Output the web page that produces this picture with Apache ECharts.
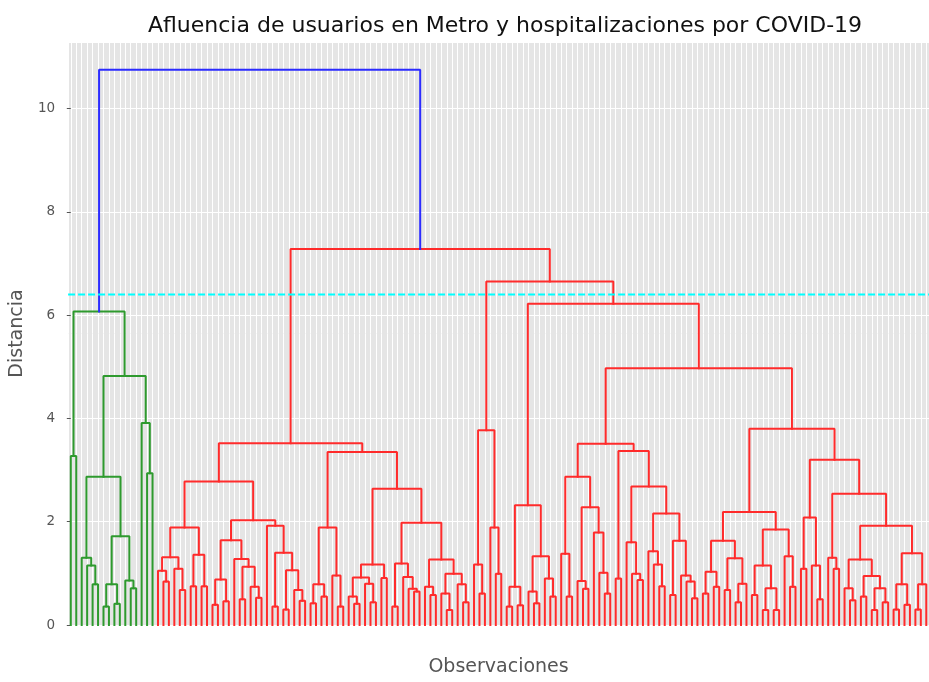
<!DOCTYPE html>
<html><head><meta charset="utf-8">
<script src="https://cdn.jsdelivr.net/npm/echarts@6/dist/echarts.min.js"></script>
<style>html,body{margin:0;padding:0;background:#fff}#c{width:929px;height:682px}</style>
</head><body><div id="c"></div>
<script>
// Dendrogram tree: node = [mergeHeight, left, right]; 0 = leaf (observation)
const greenCluster = [6.07, [3.27,0,0],
  [4.82,
    [2.87, [1.30,0,[1.15,0,[0.79,0,0]]], [1.72,[0.79,[0.36,0,0],[0.41,0,0]],[0.86,0,[0.71,0,0]]]],
    [3.91,0,[2.94,0,0]]]];

const redLeftA = [2.78,
  [1.89, [1.31,[1.05,0,[0.84,0,0]],[1.09,0,[0.68,0,0]]], [1.36,[0.75,0,0],[0.75,0,0]]],
  [2.03,
    [1.64,[0.88,[0.39,0,0],[0.46,0,0]],[1.28,0,[1.13,[0.50,0,0],[0.74,0,[0.53,0,0]]]]],
    [1.92,0,[1.40,[0.36,0,0],[1.06,[0.30,0,0],[0.68,0,[0.47,0,0]]]]]]];

const redLeftB = [3.35,
  [1.89,[0.79,[0.42,0,0],[0.55,0,0]],[0.96,0,[0.36,0,0]]],
  [2.64,
    [1.17,[0.92,[0.55,0,[0.41,0,0]],[0.80,0,[0.44,0,0]]],[0.91,0,0]],
    [1.98,
      [1.19,[0.36,0,0],[0.93,0,[0.70,0,[0.65,0,0]]]],
      [1.27,[0.74,0,[0.58,0,0]],[0.99,[0.61,0,[0.29,0,0]],[0.79,0,[0.44,0,0]]]]]]];

const redMidA = [3.77,[1.17,0,[0.61,0,0]],[1.89,0,[0.99,0,0]]];
const redMidB = [2.32,[0.74,[0.36,0,0],[0.38,0,0]],[1.33,[0.65,0,[0.42,0,0]],[0.90,0,[0.55,0,0]]]];

const redRightA = [3.51,
  [2.87,[1.38,0,[0.55,0,0]],[2.28,[0.85,0,[0.70,0,0]],[1.79,0,[1.01,0,[0.61,0,0]]]]],
  [3.37,[0.90,0,0],
    [2.68,[1.60,0,[0.99,0,[0.87,0,0]]],
      [2.16,[1.43,0,[1.17,0,[0.75,0,0]]],[1.63,[0.58,0,0],[0.96,0,[0.84,0,[0.52,0,0]]]]]]]];

const redRightB = [3.80,
  [2.19,
    [1.63,[1.03,[0.61,0,0],[0.74,0,0]],[1.29,[0.68,0,0],[0.80,[0.44,0,0],0]]],
    [1.85,[1.15,[0.58,0,0],[0.71,[0.29,0,0],[0.29,0,0]]],[1.33,0,[0.74,0,0]]]],
  [3.20,
    [2.08,[1.09,0,0],[1.15,0,[0.50,0,0]]],
    [2.54,[1.30,0,[1.09,0,0]],
      [1.92,
        [1.27,[0.71,0,[0.48,0,0]],[0.95,[0.55,0,0],[0.71,[0.29,0,0],[0.44,0,0]]]],
        [1.39,[0.79,[0.30,0,0],[0.39,0,0]],[0.79,[0.30,0,0],0]]]]]];

const upperHeights = [10.75, 7.28, 6.65, 6.22, 4.97, 3.52];
const cutHeight = 6.4;
const yTicks = [0, 2, 4, 6, 8, 10];
const colors = { above: '#2b2bff', green: '#2e9a2e', red: '#ff2b2b', cut: '#00ffff' };

const redLeft = [upperHeights[5], redLeftA, redLeftB];
const redRight = [upperHeights[2], redMidA, [upperHeights[3], redMidB, [upperHeights[4], redRightA, redRightB]]];
const redCluster = [upperHeights[1], redLeft, redRight];

let leafIdx = 0;
const links = [];
function walk(node, color) {
  if (node === 0) { return { x: leafIdx++, y: 0 }; }
  const A = walk(node[1], color), B = walk(node[2], color);
  const h = node[0];
  links.push({ pts: [[A.x, A.y], [A.x, h], [B.x, h], [B.x, B.y]], color });
  return { x: (A.x + B.x) / 2, y: h };
}
const gTop = walk(greenCluster, colors.green);
const rTop = walk(redCluster, colors.red);
links.push({ pts: [[gTop.x, gTop.y], [gTop.x, upperHeights[0]], [rTop.x, upperHeights[0]], [rTop.x, rTop.y]], color: colors.above });
const nLeaves = leafIdx;
const yMax = upperHeights[0] * 1.05;

const series = links.map(l => ({
  type: 'line', data: l.pts, showSymbol: false, silent: true, animation: false, z: 3,
  lineStyle: { color: l.color, width: 2, cap: 'square' }
}));
series.push({
  type: 'line', data: [[-0.5, cutHeight], [nLeaves - 0.5, cutHeight]], showSymbol: false, silent: true, animation: false, z: 5,
  lineStyle: { color: colors.cut, width: 2, type: [7, 3] }
});

const chart = echarts.init(document.getElementById('c'), null, { renderer: 'canvas' });
const font = 'DejaVu Sans';
chart.setOption({
  backgroundColor: '#ffffff',
  animation: false,
  title: { text: 'Afluencia de usuarios en Metro y hospitalizaciones por COVID-19', left: 500, textAlign: 'center', top: 10,
    textStyle: { fontFamily: font, fontSize: 22, fontWeight: 'normal', color: '#111' } },
  grid: { left: 68, top: 42, width: 862, height: 590, show: true, backgroundColor: '#e5e5e5', borderWidth: 0 },
  xAxis: {
    type: 'value', min: -0.5, max: nLeaves - 0.5, splitNumber: nLeaves,
    name: 'Observaciones', nameLocation: 'middle', nameGap: 33,
    nameTextStyle: { fontFamily: font, fontSize: 19, color: '#555' },
    axisLine: { show: false }, axisTick: { show: false }, axisLabel: { show: false },
    splitLine: { show: true, lineStyle: { color: '#ffffff', width: 1 } }
  },
  yAxis: {
    type: 'value', min: 0, max: yMax, interval: 2,
    name: 'Distancia', nameLocation: 'middle', nameGap: 38, nameRotate: 90,
    nameTextStyle: { fontFamily: font, fontSize: 19, color: '#555' },
    axisLine: { show: false },
    axisTick: { show: true, length: 4, lineStyle: { color: '#555' } },
    axisLabel: { fontFamily: font, fontSize: 13.5, color: '#555', margin: 13, showMaxLabel: false,
      formatter: v => (yTicks.includes(v) ? String(v) : '') },
    splitLine: { show: true, lineStyle: { color: '#ffffff', width: 1.2 } }
  },
  series
});
</script></body></html>
